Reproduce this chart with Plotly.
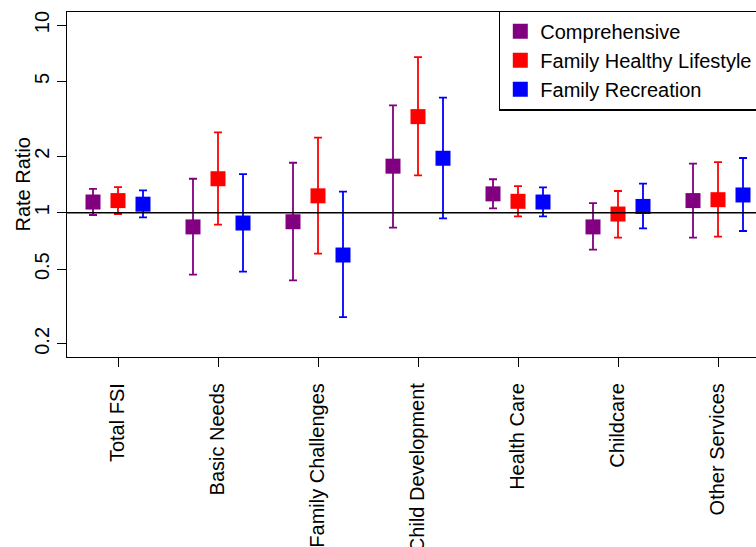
import plotly.graph_objects as go

categories = ["Total FSI", "Basic Needs", "Family Challenges", "Child Development",
              "Health Care", "Childcare", "Other Services"]

comp_rr = [1.14, 0.84, 0.895, 1.77, 1.26, 0.84, 1.16]
comp_lo = [0.972, 0.468, 0.436, 0.832, 1.055, 0.635, 0.736]
comp_hi = [1.34, 1.517, 1.846, 3.73, 1.507, 1.126, 1.824]

fhl_rr = [1.16, 1.517, 1.23, 3.25, 1.15, 0.984, 1.173]
fhl_lo = [0.984, 0.863, 0.605, 1.58, 0.957, 0.736, 0.745]
fhl_hi = [1.37, 2.68, 2.51, 6.75, 1.387, 1.305, 1.862]

fr_rr = [1.11, 0.881, 0.595, 1.95, 1.14, 1.08, 1.243]
fr_lo = [0.945, 0.485, 0.278, 0.933, 0.957, 0.826, 0.799]
fr_hi = [1.316, 1.607, 1.294, 4.10, 1.366, 1.427, 1.956]

y_tick_vals = [0.2, 0.5, 1, 2, 5, 10]
y_tick_text = ["0.2", "0.5", "1", "2", "5", "10"]

series = [
    ("Comprehensive", comp_rr, comp_lo, comp_hi, "#800080", -0.25),
    ("Family Healthy Lifestyle", fhl_rr, fhl_lo, fhl_hi, "#ff0000", 0.0),
    ("Family Recreation", fr_rr, fr_lo, fr_hi, "#0000ff", 0.25),
]

FONT = "Liberation Sans, Arial, Helvetica, sans-serif"
FS = 20

W, H = 756, 547
ML, MT, MB, MR = 67, 12, 190, 0
PW = W - ML - MR
PH = H - MT - MB

fig = go.Figure()
positions = list(range(1, len(categories) + 1))
for name, rr, lo, hi, color, off in series:
    fig.add_trace(go.Scatter(
        x=[p + off for p in positions],
        y=rr,
        mode="markers",
        name=name,
        marker=dict(symbol="square", size=15, color=color, line=dict(width=0)),
        error_y=dict(type="data", symmetric=False,
                     array=[h - v for h, v in zip(hi, rr)],
                     arrayminus=[v - l for v, l in zip(rr, lo)],
                     color=color, thickness=1.8, width=4),
    ))

fig.add_hline(y=1, line=dict(color="black", width=1.5))

fig.add_annotation(text="Rate Ratio", xref="paper", yref="paper",
                   x=(22 - ML) / PW, y=0.5, xanchor="center", yanchor="middle",
                   textangle=-90, showarrow=False,
                   font=dict(family=FONT, size=FS, color="black"))

fig.update_layout(
    width=W, height=H,
    margin=dict(l=ML, r=MR, t=MT, b=MB, autoexpand=False),
    paper_bgcolor="white", plot_bgcolor="white",
    font=dict(family=FONT, size=FS, color="black"),
    showlegend=True,
    legend=dict(x=(499 - ML) / PW, y=1 + 1.5 / PH, xanchor="left", yanchor="top",
                bordercolor="black", borderwidth=1.3, bgcolor="white",
                font=dict(family=FONT, size=20, color="black"),
                tracegroupgap=0),
    xaxis=dict(range=[0.49, 0.49 + PW / 100.0], tickvals=positions, ticktext=categories,
               tickangle=-90, ticks="outside", ticklen=9, tickwidth=1.3,
               tickcolor="black", showline=True, linecolor="black", linewidth=1.3,
               mirror=True, showgrid=False, zeroline=False, ticklabelstandoff=8,
               automargin=False),
    yaxis=dict(type="log", range=[-0.7688, 1.0693], tickvals=y_tick_vals,
               ticktext=y_tick_text, tickangle=-90, ticks="outside", ticklen=9,
               tickwidth=1.3, tickcolor="black", showline=True, linecolor="black",
               linewidth=1.3, mirror=False, showgrid=False, zeroline=False,
               ticklabelstandoff=0, automargin=False),
)

fig.write_html("out.html", config={"displayModeBar": False},
               post_script="document.body.style.margin='0';document.body.style.overflow='hidden';")
